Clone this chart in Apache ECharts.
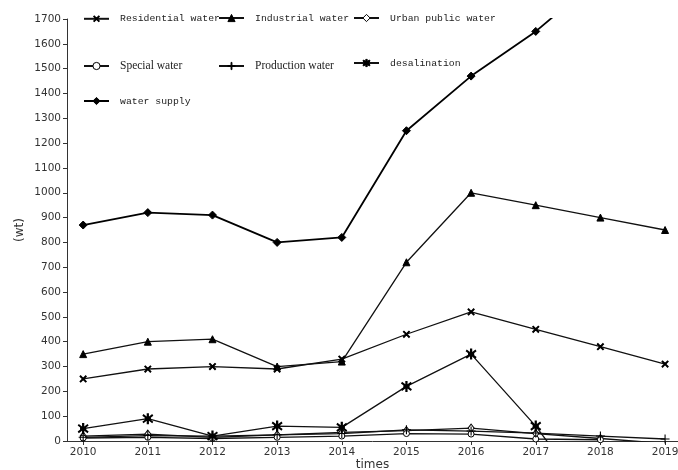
<!DOCTYPE html>
<html>
<head>
<meta charset="utf-8">
<script src="https://cdn.jsdelivr.net/npm/echarts@6/dist/echarts.min.js"></script>
<style>
  html, body { margin: 0; padding: 0; background: #fff; }
  #main { width: 678px; height: 470px; }
</style>
</head>
<body>
<div id="main"></div>
<script>
var years = [2010, 2011, 2012, 2013, 2014, 2015, 2016, 2017, 2018, 2019]
var yTicks = [0, 100, 200, 300, 400, 500, 600, 700, 800, 900, 1000, 1100, 1200, 1300, 1400, 1500, 1600, 1700]

var residential = [250, 290, 300, 290, 330, 430, 520, 450, 380, 310]
var industrial = [350, 400, 410, 300, 320, 720, 1000, 950, 900, 850]
var urbanPublic = [20, 28, 15, 25, 35, 42, 52, 30, 10, -10]
var special = [12, 15, 10, 15, 20, 30, 28, 8, 5, null]
var production = [15, 22, 20, 25, 30, 45, 40, 32, 20, 8]
var desalination = [50, 90, 20, 60, 55, 220, 350, 60, -290, -290]
var waterSupply = [870, 920, 910, 800, 820, 1250, 1470, 1650, 1870, 1950]

var PLUS = 'path://M4.4,0H5.6V4.4H10V5.6H5.6V10H4.4V5.6H0V4.4H4.4Z'
var ASTER = 'path://M4.1,0H5.9V10H4.1Z M0.6,2.3L1.5,0.8L9.4,7.7L8.5,9.2Z M8.5,0.8L9.4,2.3L1.5,9.2L0.6,7.7Z M2.5,3.5H7.5V6.5H2.5Z'

function pts (arr) {
  return arr.map(function (v, i) { return [years[i], v] })
}

function mkSeries (name, data, symbol, size, opts) {
  var s = {
    name: name,
    type: 'line',
    data: pts(data),
    symbol: symbol,
    symbolSize: size,
    showSymbol: true,
    connectNulls: false,
    clip: true,
    z: 3,
    lineStyle: { color: '#111', width: 1.3 },
    itemStyle: { color: '#000', borderColor: '#000', borderWidth: 1 }
  }
  return Object.assign(s, opts || {})
}

var monoText = { fontFamily: 'Liberation Mono', fontSize: 9.8, color: '#222', padding: [0, 0, 0, 6] }
var serifText = { fontFamily: 'Liberation Serif', fontSize: 11.5, color: '#222', padding: [0, 0, 0, 6] }

function mkLegend (name, left, top, textStyle) {
  return {
    data: [name],
    left: left,
    top: top,
    itemWidth: 25,
    itemHeight: 9,
    itemGap: 0,
    textStyle: textStyle,
    itemStyle: { borderColor: '#000', borderWidth: 1 },
    padding: 0
  }
}

var chart = echarts.init(document.getElementById('main'))
var option = {
  animation: false,
  backgroundColor: '#fff',
  legend: [
    mkLegend('Residential water', 83, 13, monoText),
    mkLegend('Industrial water', 218, 13, monoText),
    mkLegend('Urban public water', 353, 13, monoText),
    mkLegend('Special water', 83, 60, serifText),
    mkLegend('Production water', 218, 60, serifText),
    mkLegend('desalination', 353, 58, monoText),
    mkLegend('water supply', 83, 96, monoText)
  ],
  grid: { left: 67, right: 0, top: 19, bottom: 29, containLabel: false, outerBoundsMode: 'none' },
  xAxis: {
    type: 'value',
    min: 2009.75,
    max: 2019.2,
    name: 'times',
    nameLocation: 'middle',
    nameGap: 18,
    nameMoveOverlap: false,
    nameTextStyle: { fontFamily: 'DejaVu Sans', fontSize: 12, color: '#333' },
    axisLine: { show: true, lineStyle: { color: '#333', width: 1 } },
    axisTick: { show: true, length: 4, lineStyle: { color: '#333' }, customValues: years },
    axisLabel: {
      fontFamily: 'DejaVu Sans', fontSize: 10.5, color: '#333', margin: 6, customValues: years,
      formatter: function (v) { return String(v) }
    },
    splitLine: { show: false }
  },
  yAxis: {
    type: 'value',
    min: 0,
    max: 1700,
    interval: 100,
    name: '(wt)',
    nameLocation: 'middle',
    nameRotate: 90,
    nameGap: 41,
    nameMoveOverlap: false,
    nameTextStyle: { fontFamily: 'DejaVu Sans', fontSize: 12, color: '#333' },
    axisLine: { show: true, lineStyle: { color: '#333', width: 1 } },
    axisTick: { show: true, length: 4, lineStyle: { color: '#333' } },
    axisLabel: {
      fontFamily: 'DejaVu Sans', fontSize: 10.5, color: '#333', margin: 6, customValues: yTicks,
      formatter: function (v) { return String(v) }
    },
    splitLine: { show: false }
  },
  series: [
    mkSeries('Residential water', residential, PLUS, 8, { symbolRotate: 45 }),
    mkSeries('Industrial water', industrial, 'triangle', 7),
    mkSeries('Urban public water', urbanPublic, 'diamond', [6, 8], { itemStyle: { color: '#fff', borderColor: '#000', borderWidth: 1 } }),
    mkSeries('Special water', special, 'circle', 6, { itemStyle: { color: '#fff', borderColor: '#000', borderWidth: 1 } }),
    mkSeries('Production water', production, PLUS, 9, { itemStyle: { color: '#000', borderWidth: 0 } }),
    mkSeries('desalination', desalination, ASTER, 11, { itemStyle: { color: '#000', borderWidth: 0 } }),
    mkSeries('water supply', waterSupply, 'diamond', 8, { lineStyle: { color: '#000', width: 1.8 } })
  ]
}
chart.setOption(option)
window.addEventListener('resize', () => chart.resize())
</script>
</body>
</html>
